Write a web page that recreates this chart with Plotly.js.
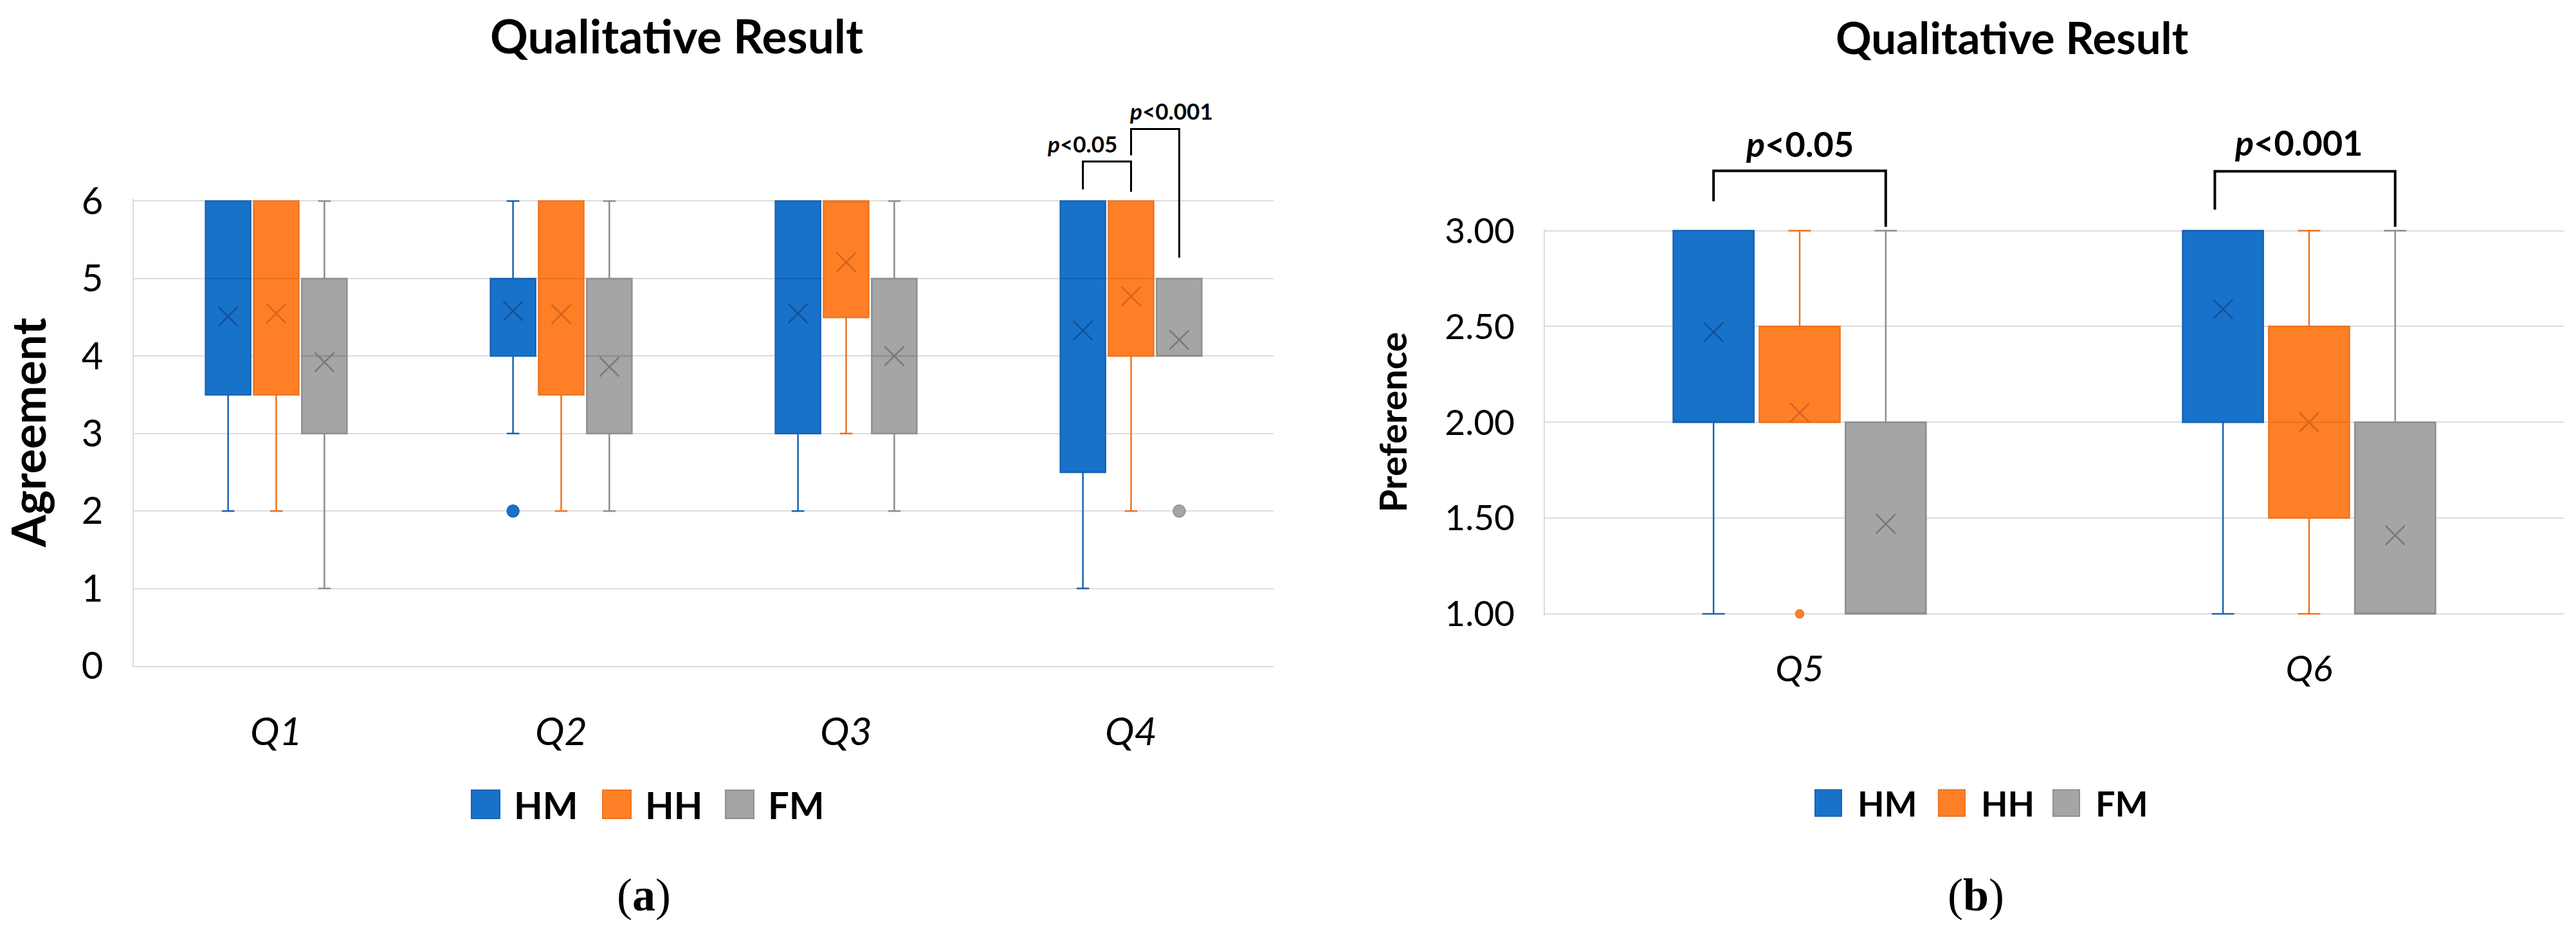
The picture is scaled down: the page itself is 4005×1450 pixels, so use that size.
<!DOCTYPE html>
<html>
<head>
<meta charset="utf-8">
<script src="https://cdn.plot.ly/plotly-3.0.1.min.js"></script>
<style>
html, body { margin: 0; padding: 0; background: #ffffff; }
#chart { width: 4005px; height: 1450px; }
</style>
</head>
<body>
<div id="chart"></div>
<script>
// ================= DATA =================
const groupNames = ['HM', 'HH', 'FM'];

// (a) Agreement, questions Q1..Q4 ; rows = HM, HH, FM
const catsA  = ['Q1', 'Q2', 'Q3', 'Q4'];
const lowA   = [[2, 3, 2, 1], [2, 2, 3, 2], [1, 2, 2, 4]];
const q1A    = [[3.5, 4, 3, 2.5], [3.5, 3.5, 4.5, 4], [3, 3, 3, 4]];
const medA   = [[5, 5, 5, 5], [5, 5, 6, 5], [4, 4, 4, 4]];
const q3A    = [[6, 5, 6, 6], [6, 6, 6, 6], [5, 5, 5, 5]];
const highA  = [[6, 6, 6, 6], [6, 6, 6, 6], [6, 6, 6, 5]];
const meanA  = [[4.51, 4.58, 4.55, 4.33], [4.55, 4.54, 5.21, 4.77], [3.92, 3.86, 4.0, 4.21]];
const outCatA = [['Q2'], [], ['Q4']];
const outValA = [[2], [], [2]];
const yTicksA = [0, 1, 2, 3, 4, 5, 6];

// (b) Preference, questions Q5..Q6
const catsB  = ['Q5', 'Q6'];
const lowB   = [[1, 1], [2, 1], [1, 1]];
const q1B    = [[2, 2], [2, 1.5], [1, 1]];
const medB   = [[2, 3], [2, 2], [1, 1]];
const q3B    = [[3, 3], [2.5, 2.5], [2, 2]];
const highB  = [[3, 3], [3, 3], [3, 3]];
const meanB  = [[2.47, 2.59], [2.05, 2.0], [1.47, 1.41]];
const outCatB = [[], ['Q5'], []];
const outValB = [[], [1], []];
const yTicksB = [1, 1.5, 2, 2.5, 3];

// significance labels
const sigLabelsA = ['<i>p</i>&lt;0.05', '<i>p</i>&lt;0.001'];
const sigLabelsB = ['<i>p</i>&lt;0.05', '<i>p</i>&lt;0.001'];

// ================= STYLE / LAYOUT CONSTANTS =================
const W = 4005, H = 1450;
const FILL = ['#1872C9', '#FF7F27', '#A5A5A5'];
const LINE = ['#1763B5', '#EE731F', '#8E8E8E'];
const MEANC = ['#13509A', '#D2661E', '#787878'];
const OFF = [-0.169, 0, 0.169];
const BOXW = 0.158;
const FONT = 'Lato, "Open Sans", sans-serif';

const plotA = { l: 208, r: 1980, t: 312.5, b: 1035, r0: 0, r1: 6, pad: [0, 0.03], n: catsA.length };
const plotB = { l: 2402, r: 3986, t: 358.5, b: 954, r0: 1, r1: 3, pad: [0.01, 0.01], n: catsB.length };

function ppu(p) { return (p.b - p.t) / (p.r1 - p.r0); }
function domainOf(p) {
  const u = ppu(p);
  const bpx = p.b + p.pad[0] * u, tpx = p.t - p.pad[1] * u;
  return { x: [p.l / W, p.r / W], y: [(H - bpx) / H, (H - tpx) / H], range: [p.r0 - p.pad[0], p.r1 + p.pad[1]] };
}
function xPaper(p, xv) { return (p.l + (xv + 0.5) / p.n * (p.r - p.l)) / W; }
function yPaper(p, v) { return (H - (p.b - (v - p.r0) * ppu(p))) / H; }

const dA = domainOf(plotA), dB = domainOf(plotB);

// ================= TRACES =================
function buildTraces(cats, low, q1, med, q3, high, mean, outCat, outVal, xa, ya, meanSize, outSize) {
  const tr = [];
  groupNames.forEach((g, k) => {
    const xs = cats.map((c, i) => i + OFF[k]);
    tr.push({
      type: 'box', name: g, xaxis: xa, yaxis: ya,
      x: xs, q1: q1[k], median: med[k], q3: q3[k],
      lowerfence: low[k], upperfence: high[k],
      width: BOXW, whiskerwidth: 0.28, boxpoints: false,
      fillcolor: FILL[k], line: { color: LINE[k], width: 2.5 },
      showlegend: false, hoverinfo: 'skip'
    });
  });
  groupNames.forEach((g, k) => {
    tr.push({
      type: 'scatter', mode: 'markers', name: g + ' mean', xaxis: xa, yaxis: ya,
      x: cats.map((c, i) => i + OFF[k]), y: mean[k],
      marker: { symbol: 'x-thin', size: meanSize, color: MEANC[k], line: { width: 2.5, color: MEANC[k] } },
      showlegend: false, hoverinfo: 'skip'
    });
    if (outVal[k].length) {
      tr.push({
        type: 'scatter', mode: 'markers', name: g + ' outlier', xaxis: xa, yaxis: ya,
        x: outCat[k].map(c => cats.indexOf(c) + OFF[k]), y: outVal[k],
        marker: { symbol: 'circle', size: outSize, color: FILL[k], line: { width: 1.5, color: LINE[k] } },
        cliponaxis: false, showlegend: false, hoverinfo: 'skip'
      });
    }
  });
  return tr;
}

const data = [].concat(
  buildTraces(catsA, lowA, q1A, medA, q3A, highA, meanA, outCatA, outValA, 'x', 'y', 30, 19),
  buildTraces(catsB, lowB, q1B, medB, q3B, highB, meanB, outCatB, outValB, 'x2', 'y2', 30, 13)
);

// ================= ANNOTATION GEOMETRY =================
const bracketsA = [
  { c: 3, xl: OFF[0], xr: OFF[1], bar: 6.51, legL: 6.15, legR: 6.12, tx: -0.172, ty: 6.74 },
  { c: 3, xl: OFF[1], xr: OFF[2], bar: 6.93, legL: 6.59, legR: 5.27, tx: 0.141, ty: 7.17 }
];
const bracketsB = [
  { c: 0, xl: OFF[0], xr: OFF[2], bar: 3.312, legL: 3.154, legR: 3.02, tx: 0.0, ty: 3.455 },
  { c: 1, xl: -0.185, xr: OFF[2], bar: 3.31, legL: 3.11, legR: 3.02, tx: -0.02, ty: 3.46 }
];

const shapes = [];
const annotations = [];

function addBrackets(p, list, labels, lw, fs) {
  list.forEach((b, i) => {
    const x1 = xPaper(p, b.c + b.xl), x2 = xPaper(p, b.c + b.xr);
    shapes.push({
      type: 'path', xref: 'paper', yref: 'paper',
      path: 'M' + x1 + ',' + yPaper(p, b.legL) + ' L' + x1 + ',' + yPaper(p, b.bar) +
            ' L' + x2 + ',' + yPaper(p, b.bar) + ' L' + x2 + ',' + yPaper(p, b.legR),
      line: { color: '#000000', width: lw }
    });
    annotations.push({
      xref: 'paper', yref: 'paper', x: xPaper(p, b.c + b.tx), y: yPaper(p, b.ty),
      xanchor: 'center', yanchor: 'middle', showarrow: false,
      text: labels[i], font: { family: FONT, size: fs, weight: 700, color: '#000' }
    });
  });
}
addBrackets(plotA, bracketsA, sigLabelsA, 3, 35);
addBrackets(plotB, bracketsB, sigLabelsB, 4, 54);

// legends (drawn as swatches + text)
const legA = { x: [733, 937, 1128], cy: 1250, size: 44, gap: 20, font: 58 };
const legB = { x: [2822, 3014, 3192], cy: 1248, size: 41, gap: 23, font: 54 };
function addLegend(L) {
  groupNames.forEach((g, k) => {
    shapes.push({
      type: 'rect', xref: 'paper', yref: 'paper',
      x0: L.x[k] / W, x1: (L.x[k] + L.size) / W,
      y0: (H - (L.cy + L.size / 2)) / H, y1: (H - (L.cy - L.size / 2)) / H,
      fillcolor: FILL[k], line: { color: LINE[k], width: 2 }
    });
    annotations.push({
      xref: 'paper', yref: 'paper', x: (L.x[k] + L.size + L.gap) / W, y: (H - L.cy) / H,
      xanchor: 'left', yanchor: 'middle', showarrow: false, text: g,
      font: { family: FONT, size: L.font, weight: 700, color: '#000' }
    });
  });
}
addLegend(legA);
addLegend(legB);

// second chart title and panel labels
annotations.push({
  xref: 'paper', yref: 'paper', x: 3128 / W, y: (H - 57) / H, xanchor: 'center', yanchor: 'middle',
  showarrow: false, text: 'Qualitative Result', font: { family: FONT, size: 69, weight: 700, color: '#000' }
});
annotations.push({
  xref: 'paper', yref: 'paper', x: 1001 / W, y: (H - 1391) / H, xanchor: 'center', yanchor: 'middle',
  showarrow: false, text: '(<b>a</b>)', font: { family: '"Liberation Serif", "DejaVu Serif", serif', size: 72, color: '#000' }
});
annotations.push({
  xref: 'paper', yref: 'paper', x: 3072 / W, y: (H - 1391) / H, xanchor: 'center', yanchor: 'middle',
  showarrow: false, text: '(<b>b</b>)', font: { family: '"Liberation Serif", "DejaVu Serif", serif', size: 72, color: '#000' }
});

// ================= LAYOUT =================
const gridC = '#DCDCDC';
const layout = {
  width: W, height: H,
  margin: { l: 0, r: 0, t: 0, b: 0, pad: 0 },
  paper_bgcolor: '#ffffff', plot_bgcolor: '#ffffff',
  showlegend: false,
  font: { family: FONT, color: '#000' },
  title: {
    text: 'Qualitative Result', x: 1052 / W, xanchor: 'center', xref: 'paper',
    y: 1 - 57 / H, yref: 'container', yanchor: 'middle',
    font: { family: FONT, size: 73, weight: 700, color: '#000' }
  },
  xaxis: {
    domain: dA.x, anchor: 'y', range: [-0.5, catsA.length - 0.5],
    tickmode: 'array', tickvals: catsA.map((c, i) => i), ticktext: catsA,
    showgrid: false, zeroline: false, showline: true, linecolor: gridC, linewidth: 2,
    ticks: '', ticklabelstandoff: 48,
    tickfont: { family: FONT, size: 61, style: 'italic', color: '#000' }, fixedrange: true
  },
  yaxis: {
    domain: dA.y, anchor: 'x', range: dA.range,
    tickmode: 'array', tickvals: yTicksA, ticktext: yTicksA.map(String),
    showgrid: true, gridcolor: gridC, gridwidth: 2, zeroline: false,
    showline: true, linecolor: gridC, linewidth: 2,
    ticks: '', ticklabelstandoff: 34,
    tickfont: { family: FONT, size: 58, color: '#000' },
    title: { text: 'Agreement', standoff: 50, font: { family: FONT, size: 72, weight: 700, color: '#000' } },
    fixedrange: true
  },
  xaxis2: {
    domain: dB.x, anchor: 'y2', range: [-0.5, catsB.length - 0.5],
    tickmode: 'array', tickvals: catsB.map((c, i) => i), ticktext: catsB,
    showgrid: false, zeroline: false, showline: false,
    ticks: '', ticklabelstandoff: 44,
    tickfont: { family: FONT, size: 57, style: 'italic', color: '#000' }, fixedrange: true
  },
  yaxis2: {
    domain: dB.y, anchor: 'x2', range: dB.range,
    tickmode: 'array', tickvals: yTicksB, ticktext: yTicksB.map(v => v.toFixed(2)),
    showgrid: true, gridcolor: gridC, gridwidth: 2, zeroline: false,
    showline: true, linecolor: gridC, linewidth: 2,
    ticks: '', ticklabelstandoff: 34,
    tickfont: { family: FONT, size: 55, color: '#000' },
    title: { text: 'Preference', standoff: 40, font: { family: FONT, size: 58, weight: 700, color: '#000' } },
    fixedrange: true
  },
  shapes: shapes,
  annotations: annotations
};

Plotly.newPlot('chart', data, layout, { staticPlot: true, displayModeBar: false });
</script>
</body>
</html>
